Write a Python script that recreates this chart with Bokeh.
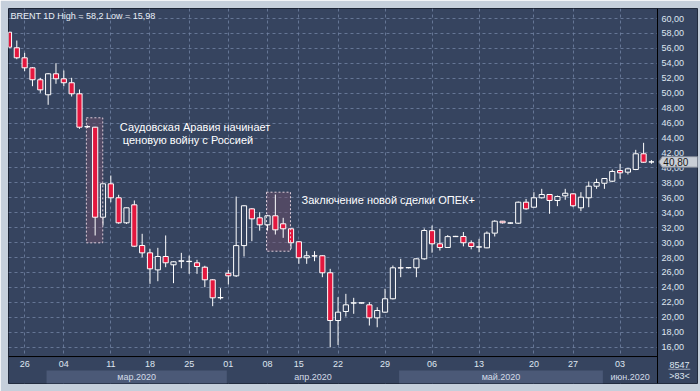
from bokeh.plotting import figure
from bokeh.models import Range1d, LinearAxis, FixedTicker, Grid, ColumnDataSource
from bokeh.core.properties import value
from bokeh.embed import file_html
from bokeh.resources import INLINE

# ---------------- data ----------------
opens = [58.17, 56.08, 54.74, 53.40, 51.80, 49.79, 52.60, 51.93, 51.40, 49.92,
         45.50, 45.45, 33.40, 37.87, 36.00, 32.65, 35.06, 29.61, 28.63, 26.35,
         28.14, 27.03, 27.50, 27.50, 27.30, 26.71, 25.02, 22.61, 25.90, 25.55,
         29.60, 34.52, 33.32, 32.38, 33.59, 32.52, 31.85, 30.11, 27.97, 28.24,
         28.24, 25.96, 19.57, 20.78, 21.90, 21.90, 21.67, 19.93, 20.69, 22.48,
         26.63, 26.63, 26.63, 27.83, 31.60, 29.84, 29.35, 30.80, 30.82, 29.98,
         29.40, 29.30, 31.27, 32.87, 32.60, 32.60, 35.41, 34.74, 36.00, 36.44,
         35.64, 36.26, 36.53, 34.66, 36.00, 37.55, 37.95, 38.22, 39.65, 39.43,
         39.79, 41.89, 40.80]
highs = [58.20, 57.05, 55.40, 53.50, 52.06, 52.70, 54.02, 53.04, 52.06, 50.50,
         45.70, 45.50, 37.90, 38.98, 36.40, 34.70, 35.64, 31.18, 29.17, 29.30,
         30.96, 27.50, 28.63, 28.27, 27.70, 26.90, 25.10, 23.90, 26.35, 36.17,
         35.00, 34.60, 34.07, 33.70, 36.44, 33.32, 31.90, 30.20, 28.85, 28.85,
         28.30, 26.49, 22.70, 23.14, 22.61, 21.95, 22.02, 21.35, 23.82, 26.93,
         27.83, 26.70, 27.90, 31.90, 32.29, 31.85, 31.00, 30.90, 31.42, 30.30,
         30.51, 31.50, 33.00, 32.90, 32.70, 35.50, 35.85, 36.75, 37.20, 36.50,
         36.30, 37.20, 36.60, 36.75, 38.18, 38.55, 38.60, 39.79, 40.55, 39.95,
         42.42, 43.36, 41.05]
lows = [56.10, 54.55, 52.95, 50.94, 50.05, 48.45, 51.26, 50.94, 49.56, 45.23,
        45.35, 30.95, 32.29, 35.40, 32.52, 32.50, 29.40, 28.05, 24.48, 24.83,
        26.71, 24.57, 26.57, 25.82, 25.82, 24.03, 21.49, 22.38, 24.39, 25.40,
        28.14, 30.19, 31.60, 31.60, 31.08, 30.64, 29.17, 27.16, 27.16, 27.51,
        25.37, 15.98, 16.30, 20.10, 20.47, 21.85, 18.90, 18.67, 20.60, 22.40,
        25.37, 26.55, 25.37, 27.70, 28.65, 28.94, 29.30, 30.75, 29.50, 29.10,
        28.71, 29.25, 30.82, 32.55, 32.50, 32.50, 34.40, 34.70, 35.90, 33.86,
        34.88, 35.73, 34.74, 34.21, 34.74, 37.20, 37.20, 38.10, 38.55, 39.12,
        39.70, 40.70, 40.55]
closes = [56.16, 54.74, 53.40, 51.80, 50.45, 52.60, 51.93, 51.40, 49.92, 45.45,
          45.53, 33.40, 37.87, 36.00, 32.65, 34.66, 29.52, 28.63, 26.49, 28.14,
          27.30, 27.43, 27.57, 27.46, 26.80, 25.02, 22.61, 22.65, 25.55, 29.60,
          34.93, 33.18, 32.38, 33.59, 31.71, 31.85, 29.98, 27.97, 28.24, 28.20,
          25.96, 19.57, 20.69, 21.67, 21.94, 21.95, 19.93, 20.91, 22.48, 26.63,
          26.60, 26.66, 27.83, 31.62, 29.84, 29.35, 30.80, 30.84, 29.98, 29.48,
          29.44, 31.27, 32.87, 32.65, 32.64, 35.41, 34.52, 36.00, 36.44, 35.64,
          36.17, 36.61, 34.93, 36.08, 37.55, 38.05, 38.58, 39.52, 39.34, 39.88,
          41.89, 40.76, 40.80]

day_ticks = [2, 7, 13, 18, 23, 28, 33, 37, 42, 48, 54, 60, 67, 72, 78]
day_labels = ["26", "04", "11", "18", "25", "01", "08", "15", "22", "29",
              "06", "13", "20", "27", "03"]
month_first = [5, 28, 50, 76]
month_labels = ["мар.2020", "апр.2020", "май.2020", "июн.2020"]
price_ticks = list(range(16, 61, 2))
last_price = 40.80
header = "BRENT 1D High = 58,2 Low = 15,98"
info_top, info_bottom = "8547", ">83<"

event_text = ["Саудовская Аравия начинает", "ценовую войну с Россией",
              "Заключение новой сделки ОПЕК+"]
event_text_x = [14.15, 14.53, 37.34]
event_text_y = [45.54, 43.67, 35.64]
event_box_left = [9.88, 32.87]
event_box_right = [11.97, 35.93]
event_box_bottom = [29.97, 28.85]
event_box_top = [46.71, 36.75]

# ---------------- layout constants ----------------
X0, X1 = -0.06, 87.88      # index range over the dark frame width
Y0, Y1 = 11.14, 61.34      # price range over the dark frame height
XR = 82.77                 # left edge of the price-scale panel
YB = 14.75                 # top edge of the date panel
YM = 12.88                 # top of month row

BG = "#36445f"
PANEL = "#36445f"
BAND = "#4b5977"
RED = "#e3173e"
GRID = "#7283a3"
TXT = "#dfe6f0"
OUTER = "#c5cfdb"
FONT = "Liberation Sans"

p = figure(width=700, height=391, x_range=Range1d(X0, X1), y_range=Range1d(Y0, Y1),
           x_axis_type=None, y_axis_type=None, toolbar_location=None,
           output_backend="svg",
           min_border_left=8, min_border_top=8, min_border_right=3, min_border_bottom=8,
           background_fill_color=BG, border_fill_color=OUTER,
           outline_line_color="#1c2435")

p.add_layout(Grid(dimension=0, ticker=FixedTicker(ticks=day_ticks),
                  grid_line_color=GRID, grid_line_dash="3 3", grid_line_alpha=0.8), "center")
p.add_layout(Grid(dimension=1, ticker=FixedTicker(ticks=price_ticks),
                  grid_line_color=GRID, grid_line_dash="3 3", grid_line_alpha=0.8), "center")

# panels
p.quad(left=[XR], right=[X1], bottom=[Y0], top=[Y1], fill_color=PANEL, line_color=None)
p.quad(left=[X0], right=[XR], bottom=[Y0], top=[YB], fill_color=PANEL, line_color=None)
bounds = [m - 0.2 for m in month_first] + [XR]
band_l = [bounds[k] for k in range(0, len(month_first), 2)]
band_r = [bounds[k + 1] for k in range(0, len(month_first), 2)]
p.quad(left=band_l, right=band_r, bottom=[Y0] * len(band_l), top=[YM] * len(band_l),
       fill_color=BAND, line_color=None)
month_centers = [round((bounds[k] + bounds[k + 1]) / 2, 2) for k in range(len(month_first))]

# event boxes (fill)
p.quad(left=event_box_left, right=event_box_right, bottom=event_box_bottom, top=event_box_top,
       fill_color="#74506a", fill_alpha=0.45, line_color=None)

# candles
idx = list(range(len(opens)))
src = ColumnDataSource(dict(
    x=idx, o=opens, h=highs, l=lows, c=closes,
    top=[max(o, c) for o, c in zip(opens, closes)],
    bottom=[min(o, c) for o, c in zip(opens, closes)],
    fill=[BG if c >= o else RED for o, c in zip(opens, closes)],
))
p.segment(x0="x", y0="l", x1="x", y1="h", source=src, line_color="white", line_width=1)
p.vbar(x="x", width=0.66, top="top", bottom="bottom", fill_color="fill",
       line_color="white", line_width=1, source=src)

# event boxes (dashed border)
p.quad(left=event_box_left, right=event_box_right, bottom=event_box_bottom, top=event_box_top,
       fill_color=None, line_color="#dccbd8", line_dash="2 2", line_width=1)

p.text(x=event_text_x, y=event_text_y, text=event_text, text_color="white",
       text_font=value(FONT), text_font_size="11px", text_baseline="middle")

p.text(x=[X0 + 0.25], y=[60.4], text=[header], text_color="#e8eef6",
       text_font=value(FONT), text_font_size="9px", text_baseline="middle")

# separator line under plot area
p.segment(x0=[X0], y0=[YB], x1=[XR], y1=[YB], line_color="black", line_width=1)

axis_common = dict(major_tick_line_color=None, minor_tick_line_color=None,
                   major_tick_out=0, major_tick_in=0, minor_tick_out=0, minor_tick_in=0,
                   major_label_text_font=FONT, major_label_text_font_size="9px")

# price axis (right)
yax = LinearAxis(ticker=FixedTicker(ticks=price_ticks), fixed_location=XR,
                 major_label_overrides={t: f"{t:.2f}".replace(".", ",") for t in price_ticks},
                 axis_line_color="black", axis_line_width=1,
                 major_label_text_color=TXT, major_label_standoff=4, **axis_common)
p.add_layout(yax, "right")

# date axis
xax = LinearAxis(ticker=FixedTicker(ticks=day_ticks), fixed_location=YB,
                 major_label_overrides=dict(zip(day_ticks, day_labels)),
                 axis_line_color=None, major_label_text_color=TXT,
                 major_label_standoff=4, **axis_common)
p.add_layout(xax, "below")

# month axis
max_ = LinearAxis(ticker=FixedTicker(ticks=month_centers), fixed_location=YM,
                  major_label_overrides=dict(zip(month_centers, month_labels)),
                  axis_line_color=None, major_label_text_color="#d3dbe7",
                  major_label_standoff=1, **axis_common)
p.add_layout(max_, "below")

# last price marker
h = 0.71
tip, bl = XR + 0.17, XR + 0.6
p.patch(x=[tip, bl, X1, X1, bl], y=[last_price, last_price + h, last_price + h,
                                   last_price - h, last_price - h],
        fill_color="#c9ced6", line_color="#7f8694", line_width=1, level="overlay")
p.text(x=[XR + 0.75], y=[last_price], text=[f"{last_price:.2f}".replace(".", ",")],
       text_color="#1a1a1a", text_font=value(FONT), text_font_size="10px",
       text_baseline="middle", level="overlay")

# info in the corner
p.text(x=[XR + 2.8, XR + 2.8], y=[13.68, 12.21], text=[info_top, info_bottom],
       text_color=TXT, text_font=value(FONT), text_font_size="9px",
       text_align="center", text_baseline="middle")
p.segment(x0=[XR + 1.4], y0=[13.05], x1=[XR + 4.2], y1=[13.05], line_color="#9aa6bb", line_width=1)

html = file_html(p, INLINE, "BRENT")
html = html.replace("<body>", '<body style="background:#c5cfdb;">', 1)
open("out.html", "w").write(html)
